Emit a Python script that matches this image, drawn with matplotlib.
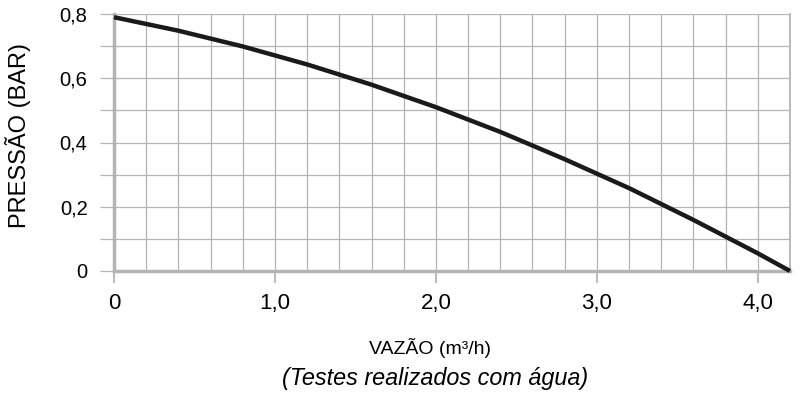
import numpy as np
import matplotlib.pyplot as plt
from matplotlib.ticker import MultipleLocator

plt.rcParams['font.family'] = ['Liberation Sans', 'DejaVu Sans']

# curva vazao x pressao
vazao = [0.0, 0.4, 0.8, 1.2, 1.6, 2.0, 2.4, 2.8, 3.2, 3.6, 4.0, 4.2]
pressao = [0.79, 0.748, 0.699, 0.643, 0.58, 0.51, 0.433, 0.348, 0.258, 0.159, 0.055, 0.0]

x_ticks = [0, 1, 2, 3, 4]
x_labels = ['0', '1,0', '2,0', '3,0', '4,0']
y_ticks = [0, 0.2, 0.4, 0.6, 0.8]
y_labels = ['0', '0,2', '0,4', '0,6', '0,8']

grey = '#b4b4b4'

fig = plt.figure(figsize=(8.04, 3.94), dpi=100)
ax = fig.add_axes([114/804, 1-271/394, (790-114)/804, (271-14)/394])

ax.plot(vazao, pressao, color='#1a1a1a', lw=3.2, solid_capstyle='butt', zorder=5, clip_on=False)

ax.set_xlim(0, 4.2)
ax.set_ylim(0, 0.8)

ax.set_xticks(x_ticks)
ax.set_xticklabels(x_labels, fontsize=16)
ax.xaxis.set_minor_locator(MultipleLocator(0.2))
ax.set_yticks(y_ticks)
ax.set_yticklabels(y_labels, fontsize=14.5)
ax.yaxis.set_minor_locator(MultipleLocator(0.1))

ax.grid(which='both', color=grey, lw=0.9)
ax.set_axisbelow(True)

ax.tick_params(axis='x', which='major', length=8.6, width=1.3, color=grey, pad=7)
ax.tick_params(axis='x', which='minor', length=0)
ax.tick_params(axis='y', which='both', length=10, width=0.9, color=grey, pad=9)

ax.spines['top'].set_visible(False)
ax.spines['right'].set_color(grey)
ax.spines['right'].set_linewidth(1.3)
for s in ['left', 'bottom']:
    ax.spines[s].set_color(grey)
    ax.spines[s].set_linewidth(2.5)

fig.text(18/804, 1-135/394, 'PRESSÃO (BAR)', rotation=90, ha='center', va='center', fontsize=17)
fig.text(430/804, 1-348/394, 'VAZÃO (m³/h)', ha='center', va='center', fontsize=14)
fig.text(435/804, 1-378/394, '(Testes realizados com água)', ha='center', va='center',
         fontsize=16.8, style='italic')

fig.savefig('out.png', dpi=100)
